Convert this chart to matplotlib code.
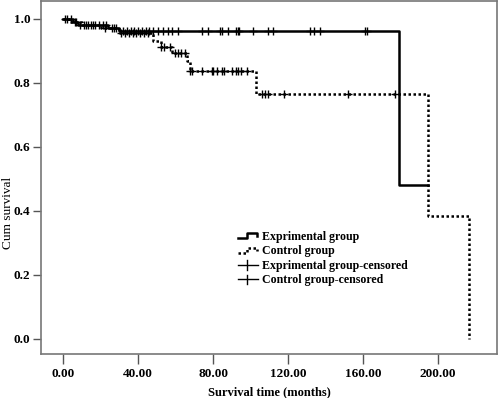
import matplotlib
matplotlib.use('Agg')
import matplotlib.pyplot as plt
from matplotlib.lines import Line2D
from matplotlib.legend_handler import HandlerBase
import numpy as np

plt.rcParams['font.family'] = ['Liberation Serif', 'DejaVu Serif']

# step curves (event times, survival after the step), last time = end of follow-up
exp_t = [0, 5, 8, 24, 30, 179, 194.5]
exp_s = [1.0, 0.99, 0.98, 0.97, 0.9625, 0.48, 0.48]
ctl_t = [0, 3, 10, 20, 30, 48, 52, 58, 66, 67.5, 103, 194.5, 216.4, 216.4]
ctl_s = [1.0, 0.99, 0.98, 0.97, 0.957, 0.93, 0.912, 0.893, 0.869, 0.8375, 0.766, 0.383, 0.0, 0.0]

exp_cens = [2, 4, 6, 9, 11, 13, 15, 17, 19, 21, 23, 26, 28, 32, 34, 36, 38, 40, 42, 44, 46,
            48, 50.6, 53, 55.8, 58, 61, 74, 77, 83.6, 84.6, 88, 92, 93, 94, 101, 109, 112,
            131.6, 134, 137, 161, 162]
ctl_cens = [1, 7, 12, 16, 22, 27, 31, 33, 35, 37, 39, 41, 43, 45, 52, 54, 57, 59.5, 61, 63, 65,
            67.5, 68.6, 74, 79.3, 80, 82, 84.6, 86, 90, 92, 93, 95, 98, 106, 107.6, 109, 118,
            152, 177]

xticks = [0, 40, 80, 120, 160, 200]
yticks = [0.0, 0.2, 0.4, 0.6, 0.8, 1.0]


def surv_at(ts, ss, x):
    i = np.searchsorted(ts, x, side='right') - 1
    return ss[i]


fig = plt.figure(figsize=(5.0, 3.98), dpi=100)
ax = fig.add_axes([0.082, 0.1106, 0.912, 0.887])

ax.step(exp_t, exp_s, where='post', color='black', lw=1.8)
ax.step(ctl_t, ctl_s, where='post', color='black', lw=1.8, linestyle=(0, (1, 1)))

ax.plot(exp_cens, [surv_at(exp_t, exp_s, x) for x in exp_cens], '+', color='black',
        ms=5.5, mew=1.0)
ax.plot(ctl_cens, [surv_at(ctl_t, ctl_s, x) for x in ctl_cens], '+', color='black',
        ms=5.5, mew=1.0)

ax.set_xlim(-11.9, 231.5)
ax.set_ylim(-0.047, 1.056)
ax.set_xticks(xticks)
ax.set_xticklabels(['%.2f' % v for v in xticks], fontweight='bold', fontsize=9.5)
ax.set_yticks(yticks)
ax.set_yticklabels(['%.1f' % v for v in yticks], fontweight='bold', fontsize=9.5)
ax.tick_params(axis='x', direction='out', length=7, width=1, color='#555555', pad=3)
ax.tick_params(axis='y', direction='out', length=6, width=1, color='#555555', pad=1.5)
for sp in ax.spines.values():
    sp.set_color('#777777')
    sp.set_linewidth(1.2)

ax.set_xlabel('Survival time (months)', fontweight='bold', fontsize=9, va='center')
ax.xaxis.set_label_coords(0.5, -0.108)
ax.set_ylabel('Cum survival', fontsize=9.5, va='center')
ax.yaxis.set_label_coords(-0.073, 0.40)


class StepHandler(HandlerBase):
    def __init__(self, ls):
        super().__init__()
        self.ls = ls

    def create_artists(self, legend, orig_handle, xd, yd, w, h, fontsize, trans):
        xs = [xd, xd + w * 0.45, xd + w * 0.45, xd + w * 0.9, xd + w * 0.9]
        ys = [yd + h * 0.2, yd + h * 0.2, yd + h * 0.8, yd + h * 0.8, yd + h * 0.45]
        ln = Line2D(xs, ys, color='black', lw=1.8, linestyle=self.ls, transform=trans)
        return [ln]


class PlusHandler(HandlerBase):
    def create_artists(self, legend, orig_handle, xd, yd, w, h, fontsize, trans):
        hl = Line2D([xd, xd + w * 0.95], [yd + h * 0.45, yd + h * 0.45],
                    color='black', lw=1.0, transform=trans)
        vl = Line2D([xd + w * 0.45, xd + w * 0.45], [yd - h * 0.1, yd + h * 1.0],
                    color='black', lw=1.0, transform=trans)
        return [hl, vl]


h1 = Line2D([], [], color='black')
h2 = Line2D([], [], color='black', linestyle=':')
h3 = Line2D([], [], color='black')
h4 = Line2D([], [], color='black')
leg = ax.legend([h1, h2, h3, h4],
                ['Exprimental group', 'Control group',
                 'Exprimental group-censored', 'Control group-censored'],
                handler_map={h1: StepHandler('-'), h2: StepHandler((0, (1, 1))),
                             h3: PlusHandler(), h4: PlusHandler()},
                loc='upper left', bbox_to_anchor=(0.421, 0.362), frameon=False,
                prop={'weight': 'bold', 'size': 8.6}, handlelength=1.8,
                handletextpad=0.2, labelspacing=0.2, borderaxespad=0)

fig.savefig('out.png', dpi=100)
